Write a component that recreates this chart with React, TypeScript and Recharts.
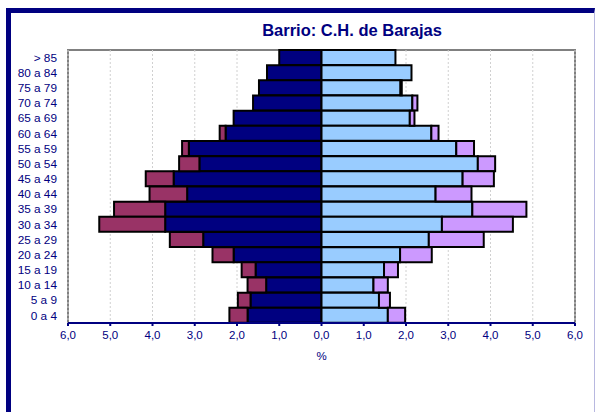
import React from 'react';
import { BarChart, Bar, XAxis, YAxis, CartesianGrid } from 'recharts';

const ageGroups = ['> 85', '80 a 84', '75 a 79', '70 a 74', '65 a 69', '60 a 64', '55 a 59', '50 a 54', '45 a 49', '40 a 44', '35 a 39', '30 a 34', '25 a 29', '20 a 24', '15 a 19', '10 a 14', '5 a 9', '0 a 4'];
const menSpanish = [1.0, 1.29, 1.48, 1.62, 2.08, 2.27, 3.14, 2.89, 3.5, 3.18, 3.7, 3.7, 2.8, 2.08, 1.56, 1.31, 1.68, 1.75];
const menForeign = [0, 0, 0, 0, 0, 0.14, 0.16, 0.48, 0.66, 0.89, 1.21, 1.56, 0.79, 0.5, 0.33, 0.44, 0.3, 0.43];
const womenSpanish = [1.75, 2.13, 1.87, 2.15, 2.09, 2.6, 3.19, 3.7, 3.34, 2.7, 3.57, 2.85, 2.54, 1.86, 1.48, 1.23, 1.36, 1.57];
const womenForeign = [0, 0, 0.03, 0.12, 0.11, 0.17, 0.42, 0.41, 0.74, 0.85, 1.28, 1.68, 1.3, 0.75, 0.33, 0.34, 0.26, 0.41];
const xTicks = [-6, -5, -4, -3, -2, -1, 0, 1, 2, 3, 4, 5, 6];

const data = ageGroups.map((g, i) => ({
  group: g,
  menSpanish: -menSpanish[i],
  menForeign: -menForeign[i],
  womenSpanish: womenSpanish[i],
  womenForeign: womenForeign[i],
}));

const FONT = '"Liberation Sans", Arial, sans-serif';
const NAVY = '#000080';

export default function App() {
  return (
    <div style={{ position: 'absolute', left: 0, top: 0, width: 595, height: 412, background: '#fff', fontFamily: FONT }}>
      <div style={{ position: 'absolute', left: 6, top: 8, width: 583, height: 399, borderLeft: '5px solid #000080', borderTop: '5px solid #000080', borderRight: '1px solid #b8b8e0', borderBottom: '1px solid #b8b8e0' }} />
      <div style={{ position: 'absolute', left: 67, top: 49, width: 505, height: 274, border: '2px solid #808080', borderBottom: 'none' }} />
      <div style={{ position: 'absolute', left: 202, top: 21, width: 300, textAlign: 'center', fontSize: 16.5, fontWeight: 'bold', color: NAVY }}>Barrio: C.H. de Barajas</div>
      <div style={{ position: 'absolute', left: 0, top: 0 }}>
        <BarChart
          width={595}
          height={412}
          data={data}
          layout="vertical"
          stackOffset="sign"
          barCategoryGap={0}
          margin={{ top: 50, right: 20, bottom: 49, left: 8 }}
        >
          <CartesianGrid horizontal={false} vertical={true} stroke="#d0d0d0" strokeDasharray="2 2" />
          <XAxis
            type="number"
            domain={[-6, 6]}
            ticks={xTicks}
            interval={0}
            height={40}
            tickSize={3}
            tickMargin={5}
            axisLine={{ stroke: NAVY, strokeWidth: 2 }}
            tickLine={{ stroke: NAVY, strokeWidth: 2 }}
            tick={{ fill: NAVY, fontSize: 11.5, fontFamily: FONT }}
            tickFormatter={(v: number) => Math.abs(v).toFixed(1).replace('.', ',')}
            label={{ value: '%', position: 'insideBottom', offset: 3, fill: NAVY, fontSize: 11.5, fontFamily: FONT }}
          />
          <YAxis
            type="category"
            dataKey="group"
            width={60}
            axisLine={false}
            tickLine={false}
            tickSize={0}
            tickMargin={11}
            interval={0}
            tick={{ fill: NAVY, fontSize: 11.8, fontFamily: FONT }}
          />
          <Bar dataKey="menSpanish" stackId="a" fill="#000080" stroke="#000" strokeWidth={2} isAnimationActive={false} />
          <Bar dataKey="menForeign" stackId="a" fill="#993366" stroke="#000" strokeWidth={2} isAnimationActive={false} />
          <Bar dataKey="womenSpanish" stackId="a" fill="#99ccff" stroke="#000" strokeWidth={2} isAnimationActive={false} />
          <Bar dataKey="womenForeign" stackId="a" fill="#cc99ff" stroke="#000" strokeWidth={2} isAnimationActive={false} />
        </BarChart>
      </div>
    </div>
  );
}
